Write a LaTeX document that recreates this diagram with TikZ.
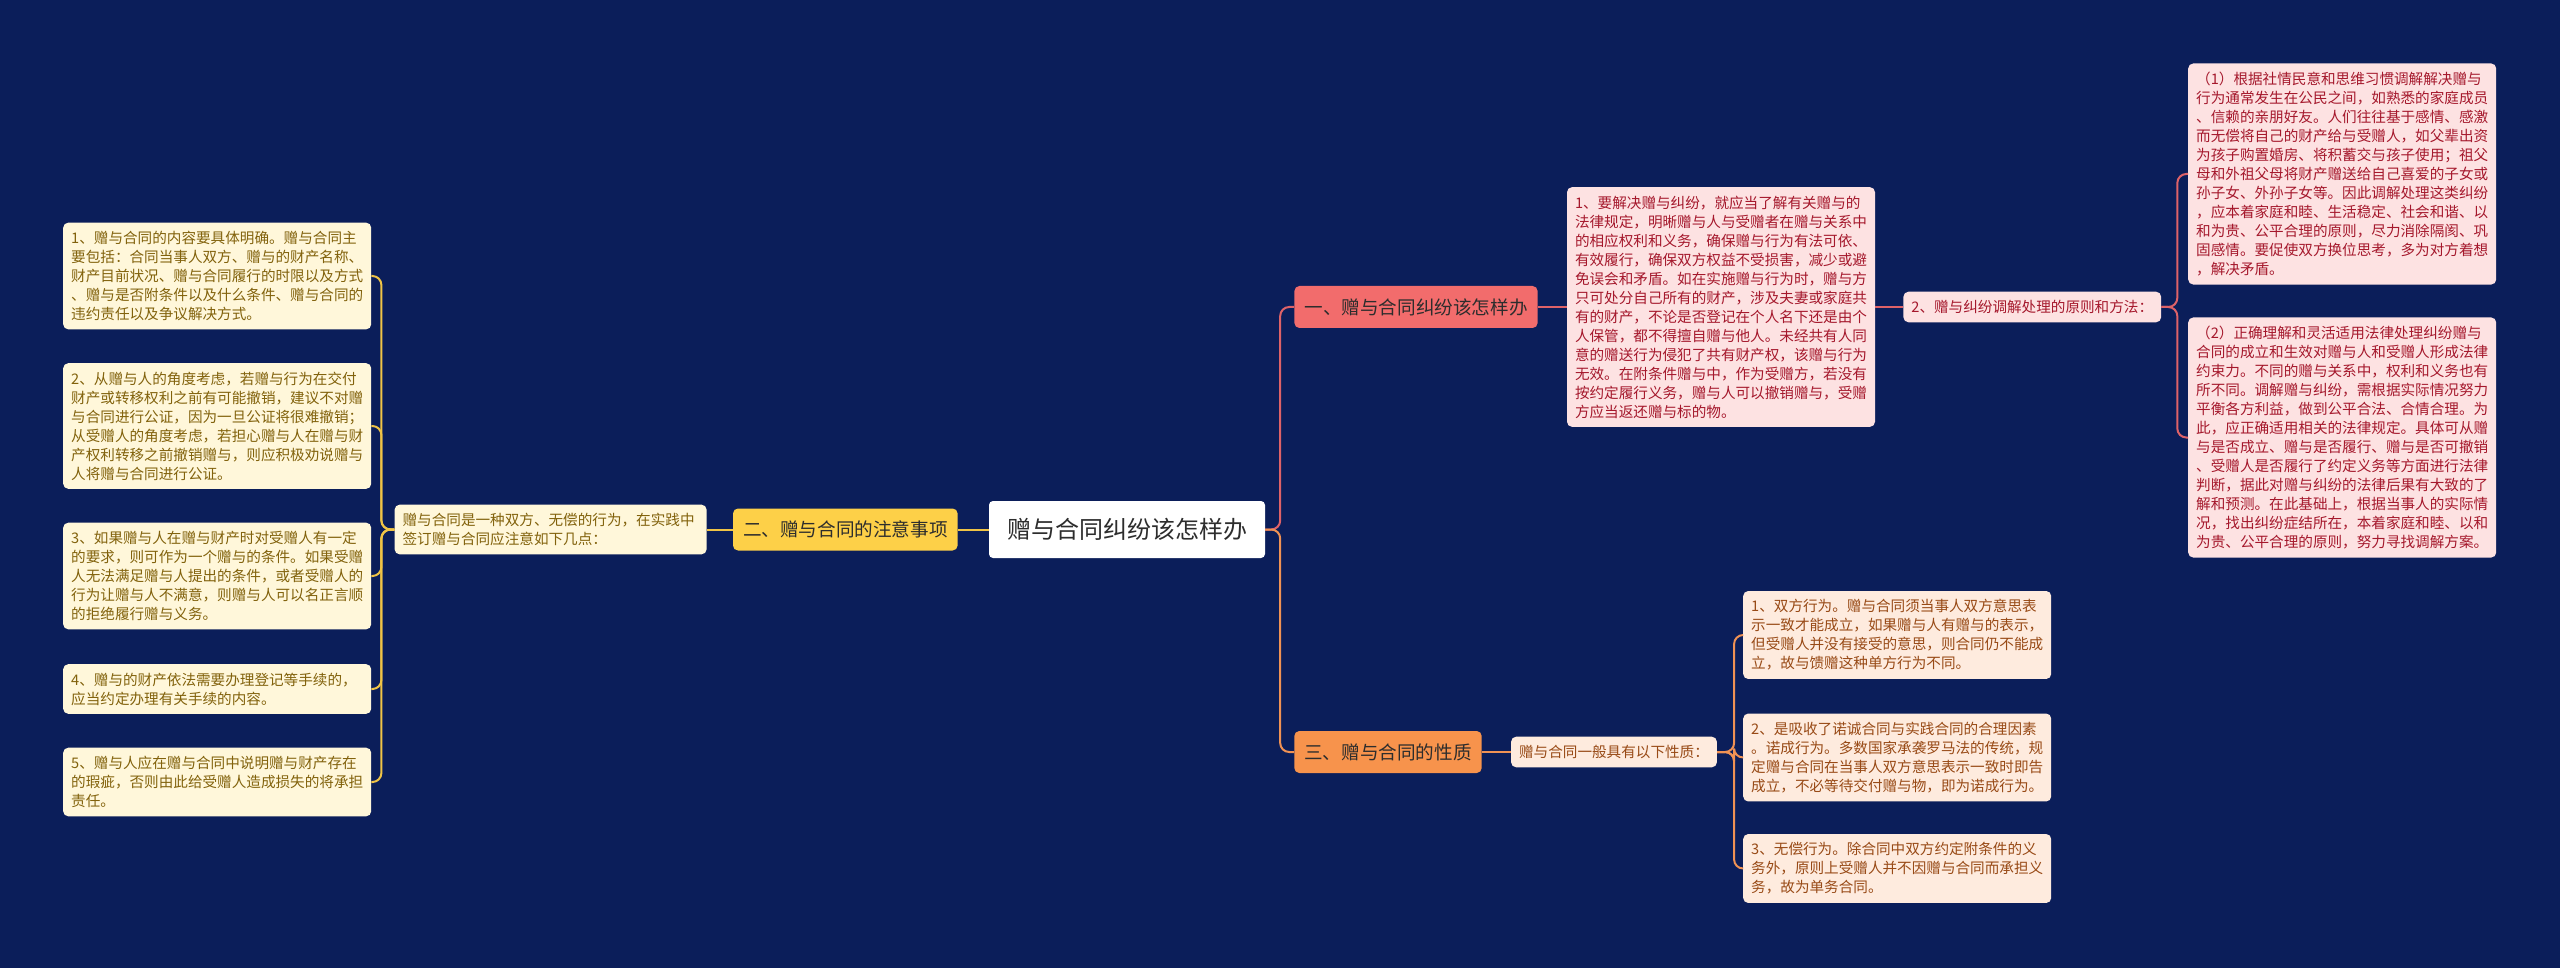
\documentclass[tikz,border=0pt]{standalone}
\usepackage{fontspec}
\setmainfont{Noto Sans CJK SC}
\usetikzlibrary{positioning}
\definecolor{bgnavy}{RGB}{11,30,90}
\definecolor{gold}{RGB}{253,208,72}
\definecolor{goldln}{RGB}{240,196,70}
\definecolor{salmon}{RGB}{242,108,108}
\definecolor{salmonln}{RGB}{222,98,104}
\definecolor{tang}{RGB}{247,147,76}
\definecolor{tangln}{RGB}{240,146,84}
\definecolor{cream}{RGB}{255,247,218}
\definecolor{creamtx}{RGB}{130,98,12}
\definecolor{blush}{RGB}{253,226,226}
\definecolor{blushtx}{RGB}{165,24,44}
\definecolor{peach}{RGB}{254,235,222}
\definecolor{peachtx}{RGB}{152,74,22}
\definecolor{inkdark}{RGB}{45,45,45}
\tikzset{lf/.style={rounded corners=5pt, inner xsep=8pt, inner ysep=8.5pt, align=left,
            font=\fontsize{14.6}{19}\selectfont}}
\tikzset{lfw/.style={lf, text width=292pt}}
\tikzset{br/.style={rounded corners=5pt, minimum height=42pt, inner xsep=10pt,
            text=inkdark, font=\fontsize{18.6}{22}\selectfont}}
\tikzset{ln/.style={line width=2pt, rounded corners=9pt}}

\begin{document}
\begin{tikzpicture}[x=1pt, y=-1pt]

    \fill[bgnavy] (0,0) rectangle (2560,968);
    \useasboundingbox (0,0) rectangle (2560,968);

    % centre
    \node(ctr)[fill=white, rounded corners=4pt, minimum width=276pt, minimum height=57pt,
        text=inkdark, font=\fontsize{24}{28}\selectfont] at (1127,529.5){赠与合同纠纷该怎样办};

    % left branch
    \node(zysx)[br, fill=gold, left=31pt of ctr]{二、赠与合同的注意事项};
    \node(zyjd)[lf, fill=cream, text=creamtx, text width=296pt, left=26pt of zysx]{赠与合同是一种双方、无偿的行为，在实践中\\签订赠与合同应注意如下几点：};

    \node(zy1)[lfw, fill=cream, text=creamtx, anchor=west] at (63,276){1、赠与合同的内容要具体明确。赠与合同主\\要包括：合同当事人双方、赠与的财产名称、\\财产目前状况、赠与合同履行的时限以及方式\\、赠与是否附条件以及什么条件、赠与合同的\\违约责任以及争议解决方式。};
    \node(zy2)[lfw, fill=cream, text=creamtx, anchor=west] at (63,426){2、从赠与人的角度考虑，若赠与行为在交付\\财产或转移权利之前有可能撤销，建议不对赠\\与合同进行公证，因为一旦公证将很难撤销；\\从受赠人的角度考虑，若担心赠与人在赠与财\\产权利转移之前撤销赠与，则应积极劝说赠与\\人将赠与合同进行公证。};
    \node(zy3)[lfw, fill=cream, text=creamtx, anchor=west] at (63,576){3、如果赠与人在赠与财产时对受赠人有一定\\的要求，则可作为一个赠与的条件。如果受赠\\人无法满足赠与人提出的条件，或者受赠人的\\行为让赠与人不满意，则赠与人可以名正言顺\\的拒绝履行赠与义务。};
    \node(zy4)[lfw, fill=cream, text=creamtx, anchor=west] at (63,689){4、赠与的财产依法需要办理登记等手续的，\\应当约定办理有关手续的内容。};
    \node(zy5)[lfw, fill=cream, text=creamtx, anchor=west] at (63,782){5、赠与人应在赠与合同中说明赠与财产存在\\的瑕疵，否则由此给受赠人造成损失的将承担\\责任。};

    % right top branch
    \node(jf)[br, fill=salmon] at (1416,307){一、赠与合同纠纷该怎样办};
    \node(jf1)[lfw, fill=blush, text=blushtx, right=29pt of jf]{1、要解决赠与纠纷，就应当了解有关赠与的\\法律规定，明晰赠与人与受赠者在赠与关系中\\的相应权利和义务，确保赠与行为有法可依、\\有效履行，确保双方权益不受损害，减少或避\\免误会和矛盾。如在实施赠与行为时，赠与方\\只可处分自己所有的财产，涉及夫妻或家庭共\\有的财产，不论是否登记在个人名下还是由个\\人保管，都不得擅自赠与他人。未经共有人同\\意的赠送行为侵犯了共有财产权，该赠与行为\\无效。在附条件赠与中，作为受赠方，若没有\\按约定履行义务，赠与人可以撤销赠与，受赠\\方应当返还赠与标的物。};
    \node(jf2)[lf, fill=blush, text=blushtx, right=28pt of jf1]{2、赠与纠纷调解处理的原则和方法：};
    \node(tj1)[lfw, fill=blush, text=blushtx, anchor=west] at (2188,174){（1）根据社情民意和思维习惯调解解决赠与\\行为通常发生在公民之间，如熟悉的家庭成员\\、信赖的亲朋好友。人们往往基于感情、感激\\而无偿将自己的财产给与受赠人，如父辈出资\\为孩子购置婚房、将积蓄交与孩子使用；祖父\\母和外祖父母将财产赠送给自己喜爱的子女或\\孙子女、外孙子女等。因此调解处理这类纠纷\\，应本着家庭和睦、生活稳定、社会和谐、以\\和为贵、公平合理的原则，尽力消除隔阂、巩\\固感情。要促使双方换位思考，多为对方着想\\，解决矛盾。};
    \node(tj2)[lfw, fill=blush, text=blushtx, anchor=west] at (2188,437.5){（2）正确理解和灵活适用法律处理纠纷赠与\\合同的成立和生效对赠与人和受赠人形成法律\\约束力。不同的赠与关系中，权利和义务也有\\所不同。调解赠与纠纷，需根据实际情况努力\\平衡各方利益，做到公平合法、合情合理。为\\此，应正确适用相关的法律规定。具体可从赠\\与是否成立、赠与是否履行、赠与是否可撤销\\、受赠人是否履行了约定义务等方面进行法律\\判断，据此对赠与纠纷的法律后果有大致的了\\解和预测。在此基础上，根据当事人的实际情\\况，找出纠纷症结所在，本着家庭和睦、以和\\为贵、公平合理的原则，努力寻找调解方案。};

    % right bottom branch
    \node(xz)[br, fill=tang] at (1388,752){三、赠与合同的性质};
    \node(xz0)[lf, fill=peach, text=peachtx, right=29pt of xz]{赠与合同一般具有以下性质：};
    \node(xz1)[lfw, fill=peach, text=peachtx, anchor=west] at (1743,635){1、双方行为。赠与合同须当事人双方意思表\\示一致才能成立，如果赠与人有赠与的表示，\\但受赠人并没有接受的意思，则合同仍不能成\\立，故与馈赠这种单方行为不同。};
    \node(xz2)[lfw, fill=peach, text=peachtx, anchor=west] at (1743,757.5){2、是吸收了诺诚合同与实践合同的合理因素\\。诺成行为。多数国家承袭罗马法的传统，规\\定赠与合同在当事人双方意思表示一致时即告\\成立，不必等待交付赠与物，即为诺成行为。};
    \node(xz3)[lfw, fill=peach, text=peachtx, anchor=west] at (1743,868.5){3、无偿行为。除合同中双方约定附条件的义\\务外，原则上受赠人并不因赠与合同而承担义\\务，故为单务合同。};

    % connectors
    \draw[ln, goldln] (ctr) -- (zysx);
    \draw[ln, goldln] (zysx) -- (zyjd);
    \foreach \n in {zy1,zy2,zy3,zy4,zy5}
        \draw[ln, goldln] (zyjd.west) -- ++(-13,0) |- (\n.east);

    \draw[ln, salmonln] (ctr.east) -- ++(15,0) |- (jf.west);
    \draw[ln, salmonln] (jf) -- (jf1);
    \draw[ln, salmonln] (jf1) -- (jf2);
    \draw[ln, salmonln] (jf2.east) -- ++(16,0) |- (tj1.west);
    \draw[ln, salmonln] (jf2.east) -- ++(16,0) |- (tj2.west);

    \draw[ln, tangln] (ctr.east) -- ++(15,0) |- (xz.west);
    \draw[ln, tangln] (xz) -- (xz0);
    \foreach \n in {xz1,xz2,xz3}
        \draw[ln, tangln] (xz0.east) -- ++(17,0) |- (\n.west);

\end{tikzpicture}
\end{document}
